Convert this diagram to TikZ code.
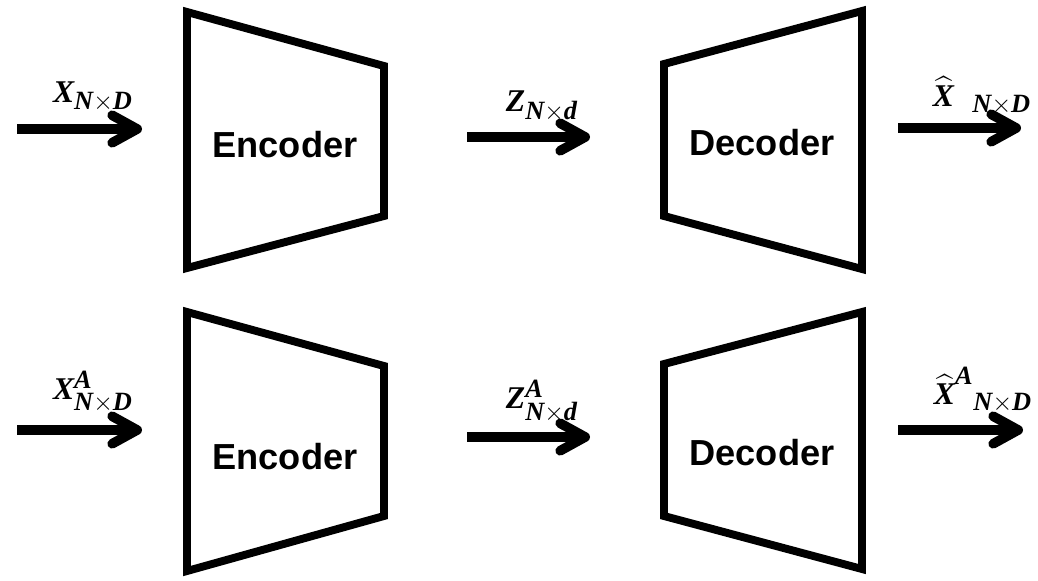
\documentclass[tikz,border=0pt]{standalone}
\usepackage{amsmath}
\usepackage{fontspec}
\newfontfamily\blockfont{Liberation Sans}
\newfontfamily\varfont{Liberation Serif}
\newcommand\vb[1]{\text{\varfont\bfseries\itshape #1}}
\newcommand\dims[2]{\vb{#1}{\times}\vb{#2}}
\DeclareMathSizes{18}{18}{15}{11}
\usetikzlibrary{arrows.meta}
\begin{document}
\begin{tikzpicture}[
  blocktext/.style={font=\fontsize{20.6}{24}\selectfont\blockfont\bfseries},
  varlabel/.style={font=\fontsize{18}{21}\selectfont},
  trap/.style={line width=4.5pt, line join=miter},
  flow/.style={line width=5.5pt, -{Straight Barb[length=0.5cm, width=0.55cm, round]}}
]
\useasboundingbox (0,0) rectangle (20.76,-11.6);

% top row
\draw[trap] (3.74,-0.24) -- (7.68,-1.32) -- (7.68,-4.32) -- (3.74,-5.36) -- cycle;
\draw[trap] (13.28,-1.28) -- (17.24,-0.22) -- (17.24,-5.38) -- (13.28,-4.32) -- cycle;
\node[blocktext] (enc1) at (5.70,-2.90) {Encoder};
\node[blocktext] (dec1) at (15.24,-2.86) {Decoder};

\coordinate (in1a) at (0.34,-2.58);
\coordinate (in1b) at (2.84,-2.58);
\coordinate (mid1a) at (9.34,-2.74);
\coordinate (mid1b) at (11.80,-2.74);
\coordinate (out1a) at (17.96,-2.56);
\coordinate (out1b) at (20.42,-2.56);
\draw[flow] (in1a) -- (in1b);
\draw[flow] (mid1a) -- (mid1b);
\draw[flow] (out1a) -- (out1b);

\node[varlabel] (x1) at (1.86,-1.94) {$\vb{X}_{\dims{N}{D}}$};
\node[varlabel] (z1) at (10.84,-2.12) {$\vb{Z}_{\dims{N}{d}}$};
\node[varlabel] (xh1) at (19.64,-1.84) {$\widehat{\vb{X}}^{\phantom{\vb{A}}}{}_{\dims{N}{D}}$};

% bottom row
\draw[trap] (3.74,-6.24) -- (7.68,-7.32) -- (7.68,-10.32) -- (3.74,-11.42) -- cycle;
\draw[trap] (13.28,-7.28) -- (17.24,-6.24) -- (17.24,-11.38) -- (13.28,-10.32) -- cycle;
\node[blocktext] (enc2) at (5.70,-9.14) {Encoder};
\node[blocktext] (dec2) at (15.24,-9.06) {Decoder};

\coordinate (in2a) at (0.34,-8.60);
\coordinate (in2b) at (2.84,-8.60);
\coordinate (mid2a) at (9.34,-8.74);
\coordinate (mid2b) at (11.80,-8.74);
\coordinate (out2a) at (17.96,-8.60);
\coordinate (out2b) at (20.46,-8.60);
\draw[flow] (in2a) -- (in2b);
\draw[flow] (mid2a) -- (mid2b);
\draw[flow] (out2a) -- (out2b);

\node[varlabel] (x2) at (1.86,-7.84) {$\vb{X}^{\vb{A}}_{\dims{N}{D}}$};
\node[varlabel] (z2) at (10.84,-8.02) {$\vb{Z}^{\vb{A}}_{\dims{N}{d}}$};
\node[varlabel] (xh2) at (19.66,-7.80) {$\widehat{\vb{X}}^{\vb{A}}{}_{\dims{N}{D}}$};
\end{tikzpicture}
\end{document}
